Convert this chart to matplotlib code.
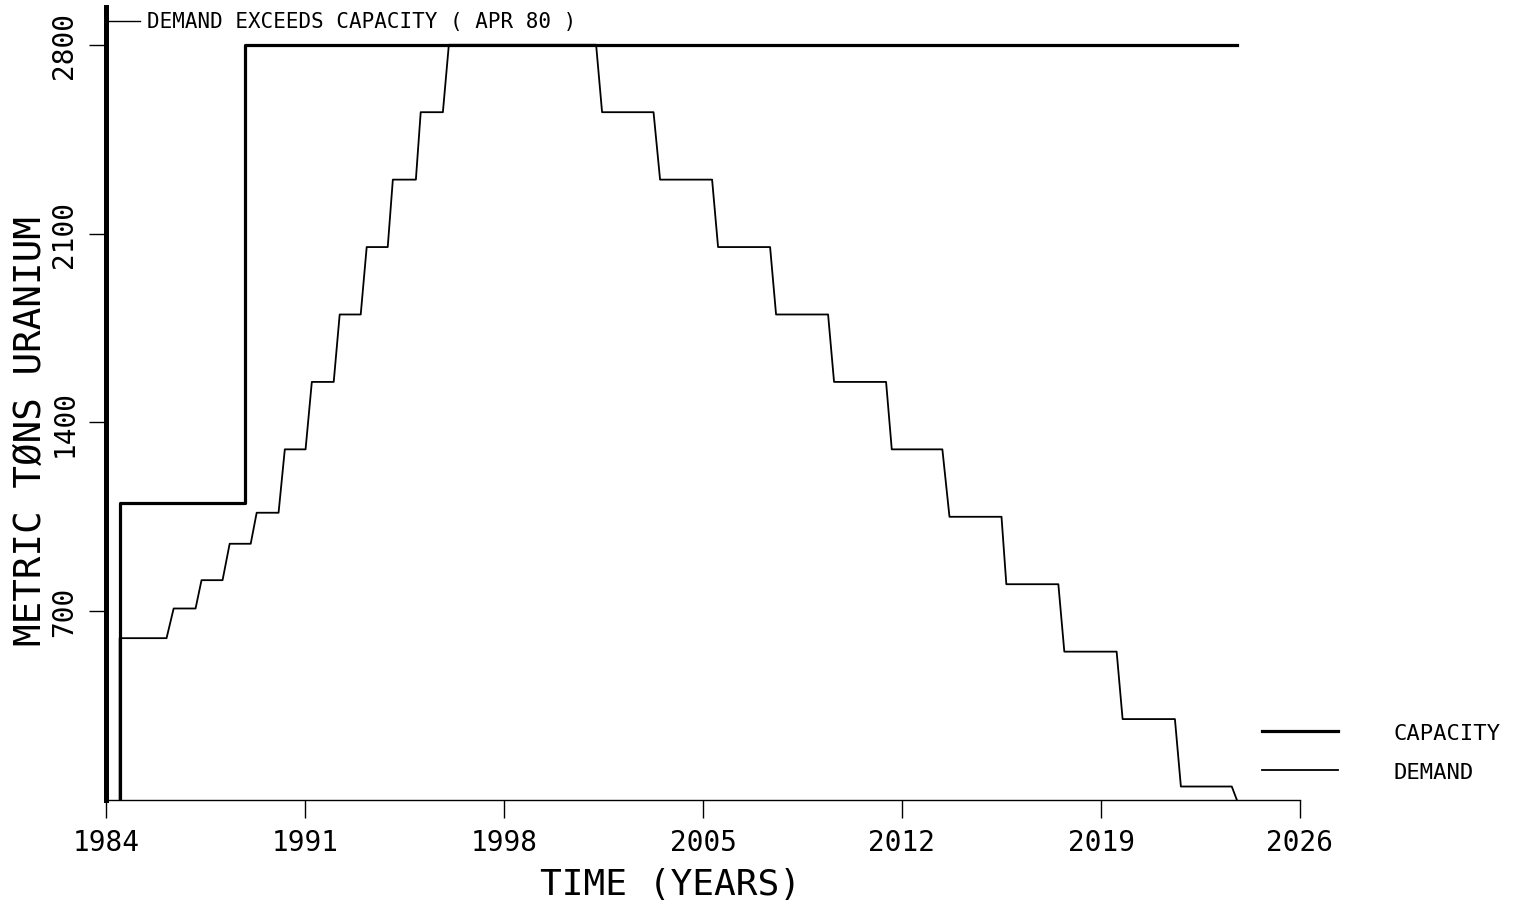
import matplotlib
matplotlib.use('Agg')
import matplotlib.pyplot as plt

plt.rcParams['font.family'] = ['DejaVu Sans Mono', 'DejaVu Sans']

# demand curve (year, metric tons)
demand_years = [1984.48, 1984.48, 1986.13, 1986.38, 1987.15, 1987.36, 1988.10, 1988.35,
                1989.09, 1989.30, 1990.07, 1990.29, 1991.02, 1991.24, 1992.01, 1992.22,
                1992.96, 1993.17, 1993.91, 1994.09, 1994.90, 1995.07, 1995.85, 1996.06,
                2001.24, 2001.45, 2003.26, 2003.49, 2005.32, 2005.53, 2007.36, 2007.57,
                2009.40, 2009.61, 2011.44, 2011.64, 2013.42, 2013.67, 2015.50, 2015.67,
                2017.50, 2017.71, 2019.55, 2019.76, 2021.60, 2021.81, 2023.60, 2023.78]
demand_values = [0, 600, 600, 710, 710, 815, 815, 950,
                 950, 1065, 1065, 1300, 1300, 1550, 1550, 1800,
                 1800, 2050, 2050, 2300, 2300, 2550, 2550, 2800,
                 2800, 2550, 2550, 2300, 2300, 2050, 2050, 1800,
                 1800, 1550, 1550, 1300, 1300, 1050, 1050, 800,
                 800, 550, 550, 300, 300, 50, 50, 0]

# capacity curve
cap_years = [1984.5, 1984.5, 1988.9, 1988.9, 2023.8]
cap_values = [0, 1100, 1100, 2800, 2800]

x_ticks = [1984, 1991, 1998, 2005, 2012, 2019, 2026]
y_ticks = [700, 1400, 2100, 2800]

fig = plt.figure(figsize=(15.16, 9.03), dpi=100)
ax = fig.add_axes([106 / 1516, 102 / 903, (1300 - 106) / 1516, (801 - 8) / 903])

ax.plot(cap_years, cap_values, color='k', lw=2.3, label='CAPACITY')
ax.plot(demand_years, demand_values, color='k', lw=1.3, label='DEMAND')

ax.set_xlim(1984, 2026)
ax.set_ylim(0, 2940)

# only left (thick) and bottom axes
ax.spines['top'].set_visible(False)
ax.spines['right'].set_visible(False)
ax.spines['left'].set_linewidth(3.6)
ax.spines['bottom'].set_linewidth(1.0)

ax.set_xticks(x_ticks)
ax.set_xticklabels([str(t) for t in x_ticks], fontsize=20)
ax.set_yticks(y_ticks)
ax.set_yticklabels([str(t) for t in y_ticks], fontsize=20, rotation=90, va='center')
ax.tick_params(axis='x', direction='out', length=13, width=1.0, pad=7)
ax.tick_params(axis='y', direction='out', length=12, width=1.0, pad=8)

# note at the top of the y axis
ax.plot([1984, 1985.2], [2888, 2888], color='k', lw=1.0, clip_on=False)
ax.text(1985.45, 2888, 'DEMAND EXCEEDS CAPACITY ( APR 80 )', fontsize=15,
        va='center', ha='left')

fig.text(31 / 1516, 1 - 431 / 903, 'METRIC TØNS URANIUM', rotation=90,
         fontsize=27, ha='center', va='center')
fig.text(670 / 1516, 1 - 885 / 903, 'TIME (YEARS)', fontsize=26,
         ha='center', va='center')

ax.legend(loc='upper left', bbox_to_anchor=(1262 / 1516, 1 - 724 / 903),
          bbox_transform=fig.transFigure, frameon=False, fontsize=16,
          borderpad=0, borderaxespad=0, handlelength=3.4, handletextpad=2.5,
          labelspacing=0.85)

fig.savefig('out.png', dpi=100)
